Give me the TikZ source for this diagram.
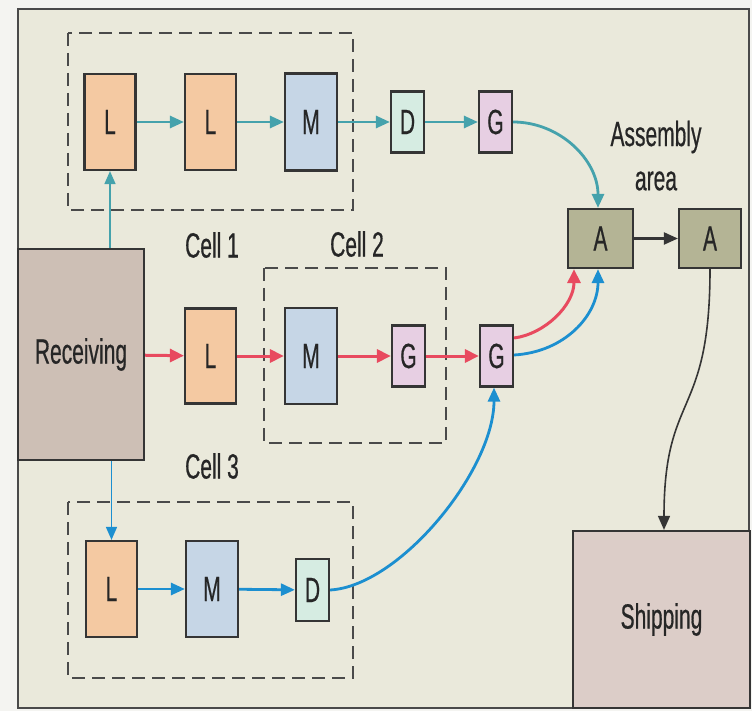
\documentclass[tikz,border=0pt]{standalone}
\usepackage{fontspec}
\setmainfont{Liberation Sans}[FakeStretch=0.6, FakeBold=0.5]
\usetikzlibrary{arrows.meta}
\definecolor{bgc}{HTML}{EAE9DB}
\definecolor{outc}{HTML}{F4F4F1}
\definecolor{framec}{HTML}{4A4A4A}
\definecolor{lfill}{HTML}{F4C9A2}
\definecolor{mfill}{HTML}{C6D6E6}
\definecolor{dfill}{HTML}{D6ECE2}
\definecolor{gfill}{HTML}{E7CFE3}
\definecolor{afill}{HTML}{B4B495}
\definecolor{recfill}{HTML}{CDBFB5}
\definecolor{shipfill}{HTML}{DCCDC8}
\definecolor{tealc}{HTML}{45A2AC}
\definecolor{redc}{HTML}{E84A5F}
\definecolor{bluec}{HTML}{1C8FD0}
\definecolor{txtc}{HTML}{262626}
\definecolor{darkc}{HTML}{353535}
\tikzset{
  x=1pt, y=-1pt,
  every node/.style={font=\fontsize{35}{38}\selectfont, text=txtc},
  box/.style={draw=darkc, line width=2.2pt, inner sep=0pt, minimum width=#1},
  boxh/.style={minimum height=#1},
  cellbox/.style={draw=framec, line width=2.4pt, dash pattern=on 13pt off 7pt},
  lbl/.style={inner sep=0pt},
  tealarr/.style={draw=tealc, line width=2.8pt, -{Triangle[length=14pt,width=12pt]}, tealc},
  redarr/.style={draw=redc, line width=3pt, -{Triangle[length=14pt,width=13pt]}, redc},
  bluearr/.style={draw=bluec, line width=2.8pt, -{Triangle[length=14pt,width=12pt]}, bluec},
  blackarr/.style={draw=darkc, line width=2.2pt, -{Triangle[length=14pt,width=12pt]}, darkc},
}
\begin{document}
\begin{tikzpicture}
\useasboundingbox (0,0) rectangle (752,711);
\fill[outc] (0,0) rectangle (752,711);
\filldraw[fill=bgc, draw=framec, line width=2pt] (18,9) rectangle (749,708);

% cells
\draw[cellbox] (68,33) rectangle (353,210);
\draw[cellbox] (264,268) rectangle (446,443);
\draw[cellbox] (68,502) rectangle (353,678);

% receiving and shipping
\node[box=126pt, boxh=211pt, fill=recfill] (rec) at (81,354.5) {Receiving};
\node[box=177pt, boxh=177pt, fill=shipfill] (ship) at (661.5,619.5) {Shipping};

% top row
\node[box=51pt, boxh=96pt, fill=lfill] (l1) at (110,122) {L};
\node[box=51pt, boxh=96pt, fill=lfill] (l2) at (210.5,122) {L};
\node[box=52pt, boxh=97pt, fill=mfill] (m1) at (311,122) {M};
\node[box=33pt, boxh=61pt, fill=dfill] (d1) at (407.5,122) {D};
\node[box=33pt, boxh=61pt, fill=gfill] (g1) at (495.5,122) {G};

% middle row
\node[box=51pt, boxh=95pt, fill=lfill] (l3) at (210.5,356) {L};
\node[box=52pt, boxh=96pt, fill=mfill] (m2) at (311,356) {M};
\node[box=33pt, boxh=61pt, fill=gfill] (g2) at (408.5,356) {G};
\node[box=33pt, boxh=61pt, fill=gfill] (g3) at (496.5,356) {G};

% bottom row
\node[box=51pt, boxh=96pt, fill=lfill] (l4) at (111.5,589) {L};
\node[box=52pt, boxh=96pt, fill=mfill] (m3) at (212,589) {M};
\node[box=33pt, boxh=62pt, fill=dfill] (d2) at (312.5,590) {D};

% assembly
\node[box=65pt, boxh=59pt, fill=afill] (a1) at (600.5,238.5) {A};
\node[box=62pt, boxh=59pt, fill=afill] (a2) at (710,238.5) {A};

% labels
\node[lbl] (c1) at (212,245) {Cell 1};
\node[lbl] (c2) at (357,244) {Cell 2};
\node[lbl] (c3) at (212,466) {Cell 3};
\node[lbl] (asm) at (656,137) {Assembly};
\node[lbl] (area) at (656,181) {area};

% teal flow
\draw[tealarr, line width=1.6pt, -{Triangle[length=13pt,width=11pt]}] (rec.north -| l1.south) -- (l1.south);
\draw[tealarr] (l1) -- (l2);
\draw[tealarr] (l2) -- (m1);
\draw[tealarr] (m1) -- (d1);
\draw[tealarr] (d1) -- (g1);
\draw[tealarr] (g1.east) .. controls (560,122) and (598,160) .. (a1.north -| 598,0);

% red flow
\draw[redarr] (rec) -- (l3);
\draw[redarr] (l3) -- (m2);
\draw[redarr] (m2) -- (g2);
\draw[redarr] (g2) -- (g3);
\draw[redarr] (g3.east |- 0,338) .. controls (545,334) and (574,305) .. (a1.south -| 574,0);

% blue flow
\draw[bluearr, line width=1.6pt, -{Triangle[length=13pt,width=11pt]}] (rec.south -| l4.north) -- (l4.north);
\draw[bluearr] (l4) -- (m3);
\draw[bluearr] (m3) -- (d2);
\draw[bluearr] (d2.east) .. controls (400,586) and (494,470) .. (g3.south -| 494,0);
\draw[bluearr] (g3.east |- 0,355) .. controls (565,352) and (598,315) .. (a1.south -| 598,0);

% black flow
\draw[blackarr] (a1) -- (a2);
\draw[blackarr, line width=1.6pt] (a2.south -| 710,0) .. controls (710,420) and (664,390) .. (ship.north -| 664,0);
\end{tikzpicture}
\end{document}
